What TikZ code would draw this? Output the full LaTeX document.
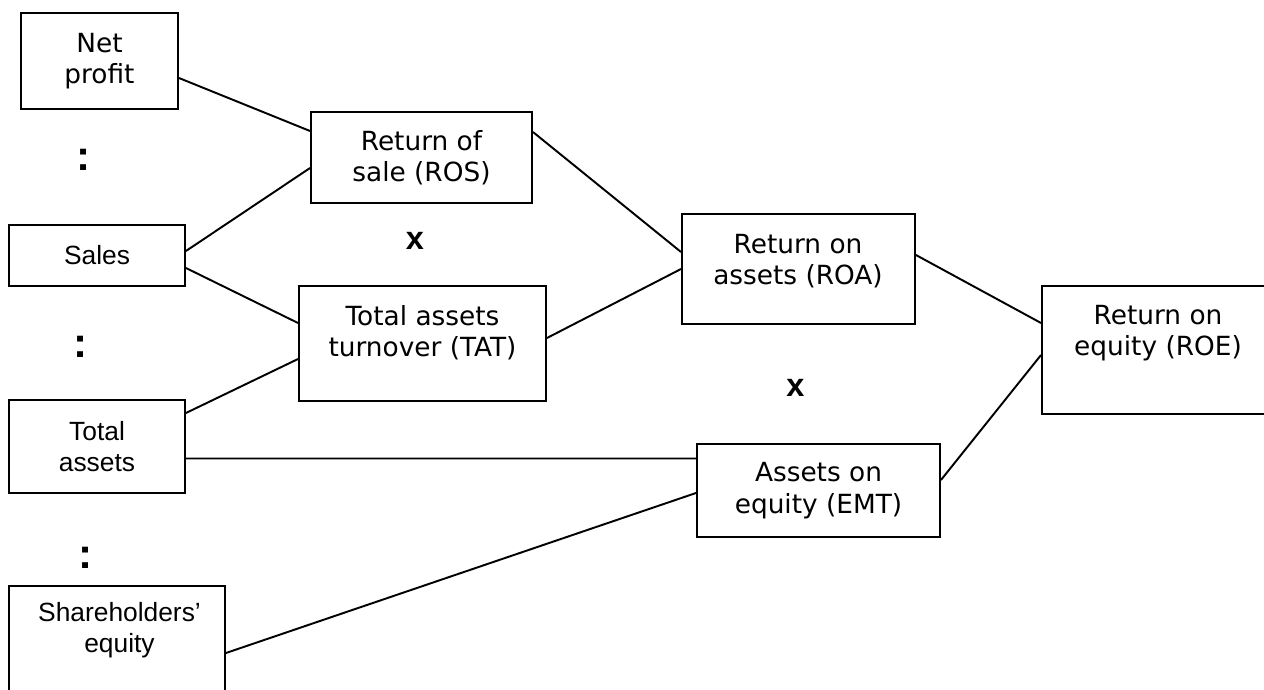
\documentclass[tikz,border=0pt]{standalone}
\usepackage{fontspec}
\setmainfont{DejaVu Sans}
\newfontfamily\arialfont{Liberation Sans}
\usepackage{tikz}
\usetikzlibrary{calc}

\begin{document}
\begin{tikzpicture}[scale=0.2]
\tikzstyle{every node}+=[inner sep=0pt]
\tikzstyle{box}=[draw, line width=1.1pt, align=center, font=\fontsize{15}{17.8}\selectfont]
\tikzstyle{arialbox}=[box, font=\fontsize{15}{18}\selectfont\arialfont]
\tikzstyle{word}=[align=center, font=\fontsize{15}{17.8}\selectfont]
\tikzstyle{colon}=[font=\fontsize{24}{24}\selectfont\arialfont\bfseries]
\tikzstyle{times}=[font=\fontsize{18.5}{18.5}\selectfont\arialfont\bfseries]
\tikzstyle{link}=[line width=1.1pt]
\useasboundingbox (0,0) rectangle (126.4,-68.9);
% left column
\node [box, minimum width=3.14cm, minimum height=1.92cm] (np) at (9.95,-6.1) {Net\\profit};
\node [arialbox, minimum width=3.52cm, minimum height=1.22cm] (sales) at (9.7,-25.55) {Sales};
\node [arialbox, minimum width=3.52cm, minimum height=1.86cm] (ta) at (9.7,-44.65) {Total\\assets};
\node [arialbox, minimum width=4.32cm, minimum height=2.4cm] (se) at (11.7,-64.6) {};
\node [word, font=\fontsize{15}{18}\selectfont\arialfont] (setext) at (11.95,-63) {Shareholders’\\equity};
\node [colon] (div1) at (8.4,-16) {:};
\node [colon] (div2) at (8.05,-34.7) {:};
\node [colon] (div3) at (8.6,-55.75) {:};
% ratios
\node [box, minimum width=4.42cm, minimum height=1.82cm] (ros) at (42.15,-15.75) {Return of\\sale (ROS)};
\node [box, minimum width=4.94cm, minimum height=2.3cm] (tat) at (42.25,-34.35) {};
\node [word] (tattext) at (42.25,-33.3) {Total assets\\turnover (TAT)};
\node [times] (mul1) at (41.5,-24.05) {x};
\node [box, minimum width=4.66cm, minimum height=2.2cm] (roa) at (79.85,-26.9) {};
\node [word] (roatext) at (79.8,-26.1) {Return on\\assets (ROA)};
\node [box, minimum width=4.86cm, minimum height=1.86cm] (emt) at (81.85,-49.05) {Assets on\\equity (EMT)};
\node [times] (mul2) at (79.55,-38.75) {x};
\node [box, minimum width=4.64cm, minimum height=2.56cm] (roe) at (115.8,-35) {};
\node [word] (roetext) at (115.8,-33.3) {Return on\\equity (ROE)};
% connectors
\draw [link] ($(np.east)+(0,-1.7)$) -- ($(ros.west)+(0,2.65)$);
\draw [link] ($(sales.east)+(0,0.45)$) -- ($(ros.west)+(0,-1.05)$);
\draw [link] ($(sales.east)+(0,-1.25)$) -- ($(tat.west)+(0,2.05)$);
\draw [link] ($(ta.east)+(0,3.35)$) -- ($(tat.west)+(0,-1.55)$);
\draw [link] ($(ta.east)+(0,-1.2)$) -- ($(emt.west)+(0,3.2)$);
\draw [link] ($(se.east)+(0,-0.7)$) -- ($(emt.west)+(0,-0.25)$);
\draw [link] ($(ros.east)+(0,2.55)$) -- ($(roa.west)+(0,1.7)$);
\draw [link] ($(tat.east)+(0,0.55)$) -- (roa.west);
\draw [link] ($(roa.east)+(0,1.4)$) -- ($(roe.west)+(0,2.7)$);
\draw [link] ($(emt.east)+(0,1.05)$) -- ($(roe.west)+(0,-0.5)$);
\end{tikzpicture}
\end{document}
